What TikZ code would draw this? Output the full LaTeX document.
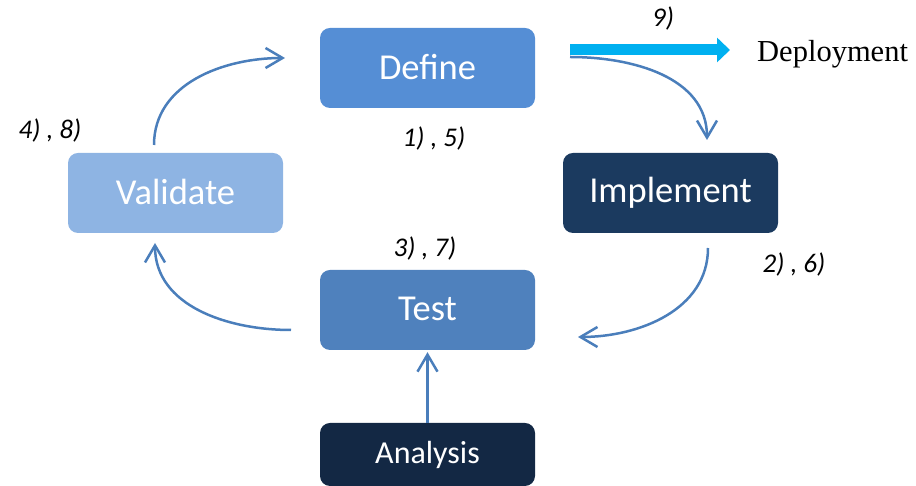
\documentclass[tikz,border=0pt]{standalone}
\usepackage{fontspec}
\setmainfont{Carlito}
\newfontfamily\deployfont{Liberation Serif}
\usetikzlibrary{arrows.meta}
\definecolor{cDefine}{HTML}{558ED5}
\definecolor{cImpl}{HTML}{1B3A5F}
\definecolor{cValid}{HTML}{8EB4E3}
\definecolor{cTest}{HTML}{4F81BD}
\definecolor{cAnal}{HTML}{132844}
\definecolor{cLine}{HTML}{4A7EBB}
\definecolor{cCyan}{HTML}{00B0F0}
\tikzset{
  box/.style={rounded corners=10pt, minimum width=215pt, minimum height=80pt, inner sep=0pt, text=white, font=\fontsize{36.5}{38}\selectfont},
  flow/.style={draw=cLine, line width=2.5pt, -{Straight Barb[length=17pt,width=20pt,line width=2.5pt]}},
  lbl/.style={font=\itshape\fontsize{27}{29}\selectfont, text=black, inner sep=0pt}
}
\begin{document}
\begin{tikzpicture}[x=1pt,y=1pt]
\useasboundingbox (0,0) rectangle (916,486);
\node[box, fill=cDefine] (define) at (427.5,418) {\raisebox{2pt}{Define}};
\node[box, fill=cImpl] (implement) at (670.5,293) {\raisebox{2pt}{Implement}};
\node[box, fill=cValid] (validate) at (175.5,293) {\raisebox{2pt}{Validate}};
\node[box, fill=cTest] (test) at (427.5,176) {\raisebox{2pt}{Test}};
\node[box, fill=cAnal, minimum height=63pt, font=\fontsize{32}{34}\selectfont] (analysis) at (427.5,31.5) {Analysis};
\node[font=\deployfont\fontsize{30.5}{32}\selectfont, anchor=west, inner sep=0pt] (deploy) at (757,432) {Deployment};
% labels
\node[lbl] (l9) at (663,467) {9)};
\node[lbl] (l15) at (434,347) {1) , 5)};
\node[lbl] (l48) at (50,355) {4) , 8)};
\node[lbl] (l26) at (794,221) {2) , 6)};
\node[lbl] (l37) at (425,237) {3) , 7)};
% free connector ends
\coordinate (vd1) at (154,341);
\coordinate (vd2) at (285,428);
\coordinate (di1) at (570,429);
\coordinate (di2) at (707,346);
\coordinate (it1) at (708,238);
\coordinate (it2) at (578,149);
\coordinate (tv1) at (291,156);
\coordinate (tv2) at (155,243);
\coordinate (dp1) at (570,436);
\coordinate (dp2) at (730,436);
% connectors
\draw[flow] (vd1) to[out=90,in=180] (vd2);
\draw[flow] (di1) to[out=0,in=90] (di2);
\draw[flow] (it1) to[out=-90,in=0] (it2);
\draw[flow] (tv1) to[out=180,in=-90] (tv2);
\draw[flow] (analysis.north) -- ([yshift=-2pt]test.south);
\draw[cCyan, line width=11pt, -{Triangle[length=13pt 0 0,width=24pt 0 0]}] (dp1) -- (dp2);
\end{tikzpicture}
\end{document}
